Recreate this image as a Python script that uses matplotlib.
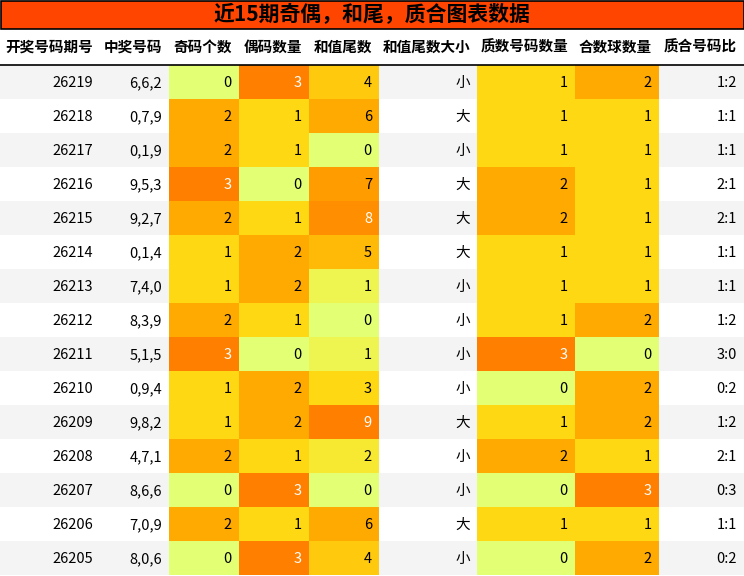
import matplotlib
matplotlib.use('Agg')
import matplotlib.pyplot as plt
from matplotlib.colors import LinearSegmentedColormap
from matplotlib.patches import Rectangle

plt.rcParams['font.family'] = ['Noto Sans CJK SC', 'DejaVu Sans']

title = '近15期奇偶，和尾，质合图表数据'
headers = ['开奖号码期号', '中奖号码', '奇码个数', '偶码数量', '和值尾数', '和值尾数大小', '质数号码数量', '合数球数量', '质合号码比']
issues = ['26219', '26218', '26217', '26216', '26215', '26214', '26213', '26212',
          '26211', '26210', '26209', '26208', '26207', '26206', '26205']
numbers = ['6,6,2', '0,7,9', '0,1,9', '9,5,3', '9,2,7', '0,1,4', '7,4,0', '8,3,9',
           '5,1,5', '0,9,4', '9,8,2', '4,7,1', '8,6,6', '7,0,9', '8,0,6']
odd = [0, 2, 2, 3, 2, 1, 1, 2, 3, 1, 1, 2, 0, 2, 0]
even = [3, 1, 1, 0, 1, 2, 2, 1, 0, 2, 2, 1, 3, 1, 3]
tail = [4, 6, 0, 7, 8, 5, 1, 0, 1, 3, 9, 2, 0, 6, 4]
size = ['小', '大', '小', '大', '大', '大', '小', '小', '小', '小', '大', '小', '小', '大', '小']
prime = [1, 1, 1, 2, 2, 1, 1, 1, 3, 0, 1, 2, 0, 1, 0]
comp = [2, 1, 1, 1, 1, 1, 1, 2, 0, 2, 2, 1, 3, 1, 2]
ratio = ['1:2', '1:1', '1:1', '2:1', '2:1', '1:1', '1:1', '1:2', '3:0', '0:2', '1:2', '2:1', '0:3', '1:1', '0:2']

cmap = LinearSegmentedColormap.from_list('heat', [(0, '#e3ff73'), (0.15, '#f2f244'), (0.33, '#ffd814'),
                                                  (0.67, '#ffaa00'), (1, '#ff8000')])

W, H = 744, 576
fig = plt.figure(figsize=(W / 100, H / 100), dpi=100)
ax = fig.add_axes([0, 0, 1, 1])
ax.set_xlim(0, W)
ax.set_ylim(H, 0)
ax.axis('off')

# title bar
ax.add_patch(Rectangle((0.5, 0.5), W - 1, 28, facecolor='#ff4500', edgecolor='black', lw=1.2))
ax.text(W / 2, 15, title, ha='center', va='center', fontsize=15, fontweight='bold')

edges = [0, 100, 169, 239, 309, 379, 477, 575, 659, 744]
head_y, row0, rh = 47, 65, 34

for j, h in enumerate(headers):
    ax.text(edges[j + 1] - 7, head_y, h, ha='right', va='center', fontsize=10.5, fontweight='bold')
ax.plot([0, W], [64.5, 64.5], color='black', lw=1.2)

cols = [issues, numbers, odd, even, tail, size, prime, comp, ratio]
vmax = {2: 3, 3: 3, 4: 9, 6: 3, 7: 3}
for i in range(len(issues)):
    y0 = row0 + i * rh
    bg = '#f4f4f4' if i % 2 == 0 else 'white'
    ax.add_patch(Rectangle((0, y0), W, rh, facecolor=bg, edgecolor='none'))
    for j, col in enumerate(cols):
        val = col[i]
        tc = 'black'
        if j in vmax:
            f = val / vmax[j]
            ax.add_patch(Rectangle((edges[j], y0), edges[j + 1] - edges[j], rh,
                                   facecolor=cmap(f), edgecolor='none'))
            if f >= 0.85:
                tc = 'white'
        ax.text(edges[j + 1] - 7, y0 + rh / 2 + 1, str(val), ha='right', va='center',
                fontsize=10.5, color=tc)

fig.savefig('out.png', dpi=100)
